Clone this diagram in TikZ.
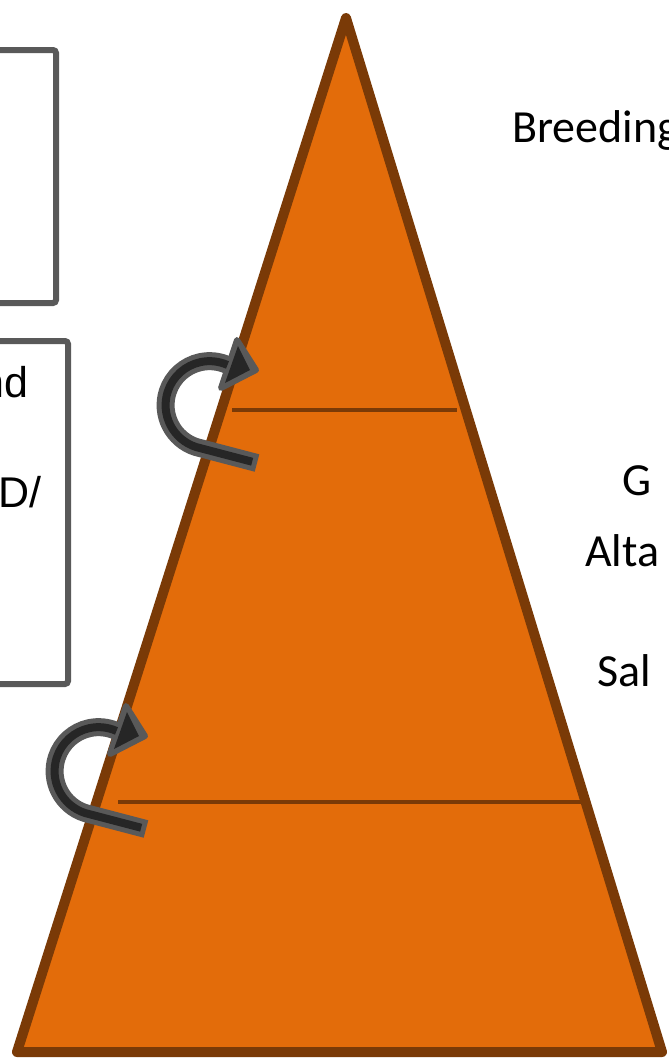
\documentclass[tikz,border=0pt]{standalone}
\usepackage{fontspec}
\usepackage{xcolor}
\usepackage{tikz}
\usetikzlibrary{calc}
\newfontfamily\calfont{Carlito}
\newfontfamily\arialfont{Liberation Sans}
\definecolor{pyrorange}{HTML}{E36C0A}
\definecolor{pyrbrown}{HTML}{7A3A07}
\definecolor{boxgray}{HTML}{595959}
\definecolor{arrowdark}{HTML}{262626}

\begin{document}
\begin{tikzpicture}[
  x=1pt, y=-1pt,
  sidebox/.style={draw=boxgray,line width=6pt,rounded corners=3pt},
  boxtext/.style={font=\arialfont\fontsize{43}{50}\selectfont,inner sep=0pt,anchor=base east},
  tiertext/.style={font=\calfont\fontsize{46}{53}\selectfont,inner sep=0pt,anchor=base west},
  tierline/.style={draw=pyrbrown,line width=4pt}
]
  \useasboundingbox (0,0) rectangle (669,1058);

  % side boxes (cut off at the left border)
  \draw[sidebox] (-20,50) rectangle (56,303);
  \draw[sidebox] (-20,341) rectangle (68,684);
  \node[boxtext] (bx1) at (29,397) {nd};
  \node[boxtext] (bx2) at (42,507) {D/};

  % pyramid
  \coordinate (apex) at (346,18);
  \coordinate (bl) at (17,1052);
  \coordinate (br) at (662,1052);
  \draw[fill=pyrorange,draw=pyrbrown,line width=10pt,line join=round]
    (apex) -- (br) -- (bl) -- cycle;

  \coordinate (t1l) at (232,410);
  \coordinate (t1r) at (457,410);
  \coordinate (t2l) at (118,802);
  \coordinate (t2r) at (583,802);
  \draw[tierline] (t1l) -- (t1r);
  \draw[tierline] (t2l) -- (t2r);

  % u-turn arrows
  \foreach \dx/\dy in {0/0,-111/366}{
    \begin{scope}[shift={(\dx,\dy)}]
      \draw[boxgray,line width=18pt] (257,463) -- (196,447)
        arc[start angle=108,end angle=294,radius=44];
      \draw[boxgray,fill=boxgray,line width=6pt,line join=round]
        (237,340) -- (256,370) -- (221,388) -- cycle;
      \draw[arrowdark,line width=8pt,shorten <=5pt] (257,463) -- (196,447)
        arc[start angle=108,end angle=294,radius=44];
      \fill[arrowdark] (238,346) -- (250,370) -- (225,383) -- cycle;
    \end{scope}
  }

  % tier labels (cut off at the right border)
  \node[tiertext] (breed) at (512,142) {Breeding};
  \node[tiertext] (gtier) at (622,495) {G};
  \node[tiertext] (alta) at (585,566) {Alta};
  \node[tiertext] (sal) at (597,686) {Sal};
\end{tikzpicture}
\end{document}
